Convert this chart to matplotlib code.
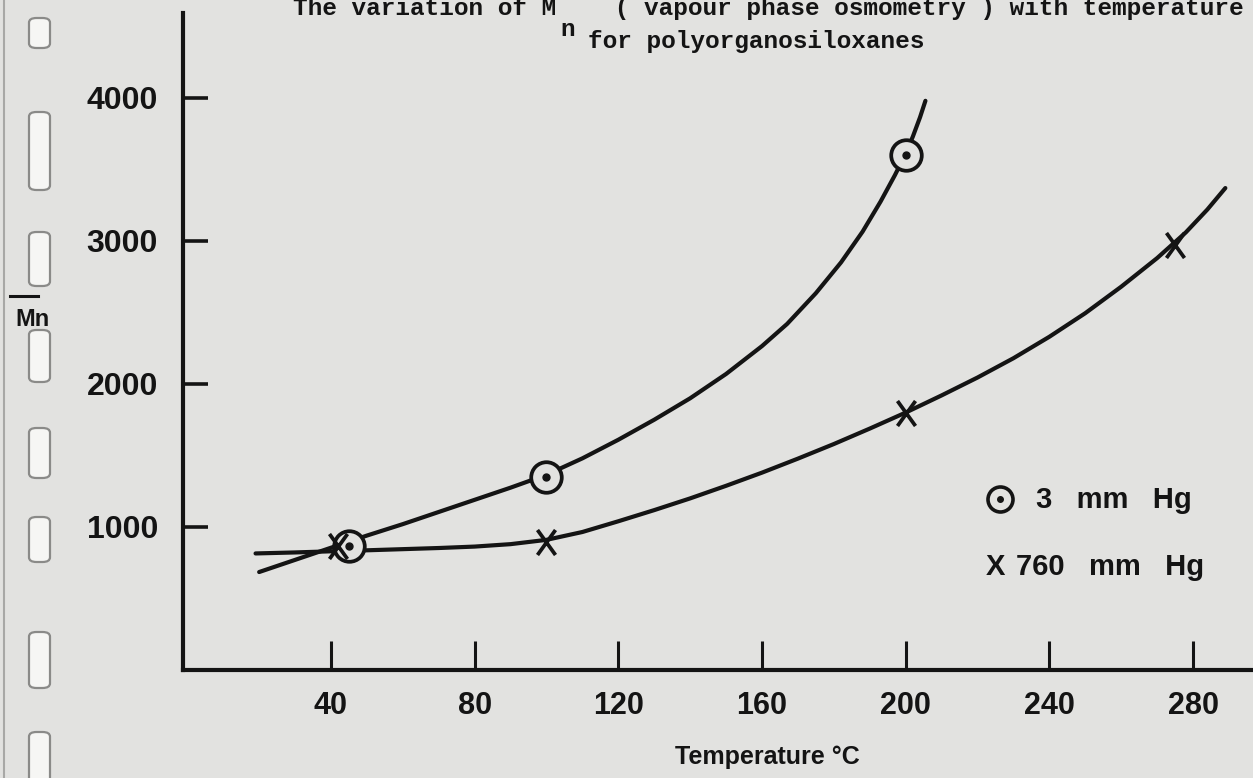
import matplotlib
matplotlib.use("Agg")
import matplotlib.pyplot as plt
from matplotlib.path import Path
from matplotlib.lines import Line2D
from matplotlib.patches import FancyBboxPatch

# ---- data ----
temp_3mm = [45, 100, 200]
mn_3mm = [865, 1350, 3600]
temp_760 = [42, 100, 200, 275]
mn_760 = [870, 895, 1800, 2975]

curve_3mm_x = [20, 30, 40, 50, 60, 70, 80, 90, 100, 110, 120, 130, 140, 150, 160,
               167, 175, 182, 188, 193, 197, 200, 202, 204, 205.5]
curve_3mm_y = [685, 770, 855, 940, 1020, 1105, 1190, 1275, 1365, 1480, 1610, 1750, 1900, 2070, 2265,
               2420, 2635, 2850, 3065, 3275, 3460, 3610, 3730, 3865, 3980]
curve_760_x = [19, 30, 40, 50, 60, 70, 80, 90, 100, 110, 120, 130, 140, 150, 160,
               170, 180, 190, 200, 210, 220, 230, 240, 250, 260, 270, 278, 284, 289]
curve_760_y = [815, 822, 830, 837, 845, 853, 863, 880, 910, 965, 1040, 1118, 1200, 1288, 1380,
               1478, 1580, 1688, 1800, 1920, 2045, 2180, 2330, 2495, 2680, 2880, 3060, 3220, 3370]

x_ticks = [40, 80, 120, 160, 200, 240, 280]
y_ticks = [1000, 2000, 3000, 4000]
legend_labels = ["3   mm   Hg", "760   mm   Hg"]

INK = "#141414"
PAPER = "#e2e2e0"
W, H = 1253, 778

fig = plt.figure(figsize=(W / 100, H / 100), dpi=100, facecolor=PAPER)

def fx(px):
    return px / W

def fy(py):
    return 1 - py / H

# film-strip perforations (scan artefacts on the left edge)
for top, bot in [(18, 48), (112, 190), (232, 286), (330, 382), (428, 478), (517, 562), (632, 688), (732, 800)]:
    p = FancyBboxPatch((fx(29), fy(bot)), fx(21), (bot - top) / H,
                       boxstyle="round,pad=0,rounding_size=0.006",
                       transform=fig.transFigure, facecolor="#f6f6f4",
                       edgecolor="#8a8a88", linewidth=1.6)
    fig.add_artist(p)
fig.add_artist(Line2D([fx(4), fx(4)], [0, 1], transform=fig.transFigure,
                      color="#a8a8a6", linewidth=1.5))

ax = fig.add_axes([fx(183), fy(670), 1 - fx(183), fy(13) - fy(670)])
ax.set_facecolor("none")
ax.set_xlim(-1.2, 296.7)
ax.set_ylim(0, 4594)

for s in ["top", "right"]:
    ax.spines[s].set_visible(False)
for s in ["left", "bottom"]:
    ax.spines[s].set_linewidth(3.0)
    ax.spines[s].set_color(INK)

ax.set_xticks(x_ticks)
ax.set_yticks(y_ticks)
ax.set_xticklabels([str(v) for v in x_ticks])
ax.set_yticklabels([str(v) for v in y_ticks])
ax.tick_params(axis="x", direction="in", length=21, width=2.2, color=INK,
               pad=15, labelsize=22, labelcolor=INK)
ax.tick_params(axis="y", direction="in", length=18, width=2.6, color=INK,
               pad=18, labelsize=23, labelcolor=INK)
for lab in ax.get_xticklabels() + ax.get_yticklabels():
    lab.set_fontfamily("Liberation Sans")
    lab.set_fontweight("bold")

# curves
ax.plot(curve_3mm_x, curve_3mm_y, color=INK, linewidth=3.0,
        solid_capstyle="round", solid_joinstyle="round", clip_on=False)
ax.plot(curve_760_x, curve_760_y, color=INK, linewidth=3.0,
        solid_capstyle="round", solid_joinstyle="round", clip_on=False)

# markers
ax.plot(temp_3mm, mn_3mm, linestyle="none", marker="o", markersize=22,
        markerfacecolor=PAPER, markeredgecolor=INK, markeredgewidth=2.7, zorder=3)
ax.plot(temp_3mm, mn_3mm, linestyle="none", marker="o", markersize=5,
        markerfacecolor=INK, markeredgecolor=INK, zorder=4)

xmark = Path([(-0.72, -1), (0.72, 1), (-0.72, 1), (0.72, -1)],
             [Path.MOVETO, Path.LINETO, Path.MOVETO, Path.LINETO])
ax.plot(temp_760, mn_760, linestyle="none", marker=xmark, markersize=18,
        markeredgecolor=INK, markeredgewidth=2.7, zorder=3)

# legend (hand-lettered on original)
fig.add_artist(Line2D([fx(1000)], [fy(499)], transform=fig.transFigure, linestyle="none",
                      marker="o", markersize=18, markerfacecolor="none",
                      markeredgecolor=INK, markeredgewidth=2.6))
fig.add_artist(Line2D([fx(1000)], [fy(499)], transform=fig.transFigure, linestyle="none",
                      marker="o", markersize=4, markerfacecolor=INK, markeredgecolor=INK))
fig.text(fx(995), fy(567), "X", fontsize=21, family="Liberation Sans", weight="bold",
         color=INK, ha="center", va="center")
fig.text(fx(1036), fy(500), legend_labels[0], fontsize=21, family="Liberation Sans",
         weight="bold", color=INK, ha="left", va="center")
fig.text(fx(1016), fy(567), legend_labels[1], fontsize=21, family="Liberation Sans",
         weight="bold", color=INK, ha="left", va="center")

# axis titles
fig.text(fx(767), fy(757), "Temperature °C", fontsize=18, family="Liberation Sans",
         weight="bold", color=INK, ha="center", va="center")
fig.text(fx(15), fy(319), "Mn", fontsize=17, family="Liberation Sans", weight="bold",
         color=INK, ha="left", va="center")
fig.add_artist(Line2D([fx(10), fx(38)], [fy(296), fy(296)], transform=fig.transFigure,
                      color=INK, linewidth=2.2))

# title (typewritten)
mono = dict(family="Liberation Mono", weight="bold", color=INK, fontsize=17.6)
fig.text(fx(293), fy(15), "The variation of M    ( vapour phase osmometry ) with temperature",
         ha="left", va="baseline", **mono)
fig.text(fx(560), fy(36), "n", ha="left", va="baseline", **mono)
fig.text(fx(588), fy(48), "for polyorganosiloxanes", ha="left", va="baseline", **mono)

fig.savefig("out.png", dpi=100, facecolor=PAPER)
